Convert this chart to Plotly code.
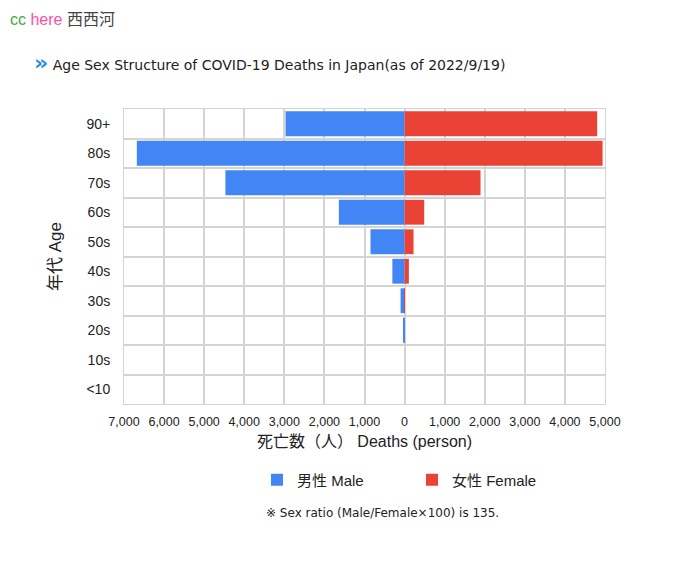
import plotly.graph_objects as go

# ─── Data ─────────────────────────────────────────────────────────────────────
AGES    = ["<10", "10s", "20s", "30s", "40s", "50s", "60s", "70s", "80s", "90+"]
MALE    = [0, 0, 30, 100, 305, 850, 1640, 4470, 6680, 2970]
FEMALE  = [0, 0, 0, 10, 107, 224, 490, 1895, 4940, 4805]
X_TICKS = [-7000, -6000, -5000, -4000, -3000, -2000, -1000, 0, 1000, 2000, 3000, 4000, 5000]

BLUE = "#4285F4"
RED  = "#EA4335"
GRID = "#d4d4d4"
FONT = "Liberation Sans, Arial, Noto Sans CJK JP, sans-serif"

# page body has an 8px margin, so the figure is sized to fit the window
W, H = 688, 556
PLOT_L, PLOT_T, PLOT_W, PLOT_H = 116, 101, 481, 295


def px_x(page_x):
    return (page_x - 8 - PLOT_L) / PLOT_W


def px_y(page_y):
    return 1 - (page_y - 8 - PLOT_T) / PLOT_H


# ─── Figure ───────────────────────────────────────────────────────────────────
fig = go.Figure()
fig.add_trace(go.Bar(
    y=AGES, x=[-v for v in MALE], orientation="h", name="男性 Male",
    marker=dict(color=BLUE, line=dict(width=0)),
    customdata=MALE, hovertemplate="%{y}: %{customdata}<extra>男性 Male</extra>",
))
fig.add_trace(go.Bar(
    y=AGES, x=FEMALE, orientation="h", name="女性 Female",
    marker=dict(color=RED, line=dict(width=0)),
    hovertemplate="%{y}: %{x}<extra>女性 Female</extra>",
))

fig.update_layout(
    width=W, height=H,
    margin=dict(l=PLOT_L, r=W - PLOT_L - PLOT_W, t=PLOT_T, b=H - PLOT_T - PLOT_H),
    paper_bgcolor="white", plot_bgcolor="white",
    barmode="relative", bargap=0.16,
    font=dict(family=FONT, color="#222", size=14),
    showlegend=True,
    legend=dict(
        orientation="h", x=px_x(257), xanchor="left", y=px_y(480), yanchor="middle",
        font=dict(size=15, color="#222"), entrywidth=110, itemwidth=30,
    ),
    xaxis=dict(
        range=[-7000, 5000], tickvals=X_TICKS,
        ticktext=[f"{abs(v):,}" for v in X_TICKS],
        showgrid=True, gridcolor=GRID, gridwidth=1.5,
        zeroline=True, zerolinecolor=GRID, zerolinewidth=1.5,
        showline=True, linecolor=GRID, mirror=True, automargin=False,
        ticks="", ticklabelstandoff=6, tickfont=dict(size=12.5, color="#222"),
        title=dict(text="死亡数（人） Deaths (person)", font=dict(size=16, color="#222"), standoff=7),
        fixedrange=True,
    ),
    yaxis=dict(
        type="category", categoryorder="array", categoryarray=AGES,
        tickson="boundaries", showgrid=True, gridcolor=GRID, gridwidth=1.5,
        showline=True, linecolor=GRID, mirror=True, automargin=False,
        ticks="", ticklabelstandoff=10, tickfont=dict(size=14, color="#222"),
        title=dict(text="年代 Age", font=dict(size=17, color="#222"), standoff=20),
        fixedrange=True,
    ),
)

# ─── Header, title and footnote ───────────────────────────────────────────────
fig.add_annotation(
    xref="paper", yref="paper", x=px_x(8), y=px_y(9), xanchor="left", yanchor="top",
    text="<span style='color:#45a845'>cc</span> <span style='color:#ff4fa3'>here</span> "
         "<span style='color:#444'>西西河</span>",
    showarrow=False, font=dict(size=16, family="Liberation Sans, Noto Sans CJK SC"),
)
fig.add_annotation(
    xref="paper", yref="paper", x=px_x(32), y=px_y(62), xanchor="left", yanchor="middle",
    text="<span style='color:#2b8fd9;font-size:22px'><b>»</b></span> Age Sex Structure of COVID-19 Deaths in Japan(as of 2022/9/19)",
    showarrow=False, font=dict(size=14, color="#222", family="DejaVu Sans, sans-serif"),
)
fig.add_annotation(
    xref="paper", yref="paper", x=px_x(264), y=px_y(513), xanchor="left", yanchor="middle",
    text="※ Sex ratio (Male/Female×100) is 135.",
    showarrow=False, font=dict(size=12, color="#222", family="DejaVu Sans, Noto Sans CJK JP"),
)

fig.write_html("out.html")
